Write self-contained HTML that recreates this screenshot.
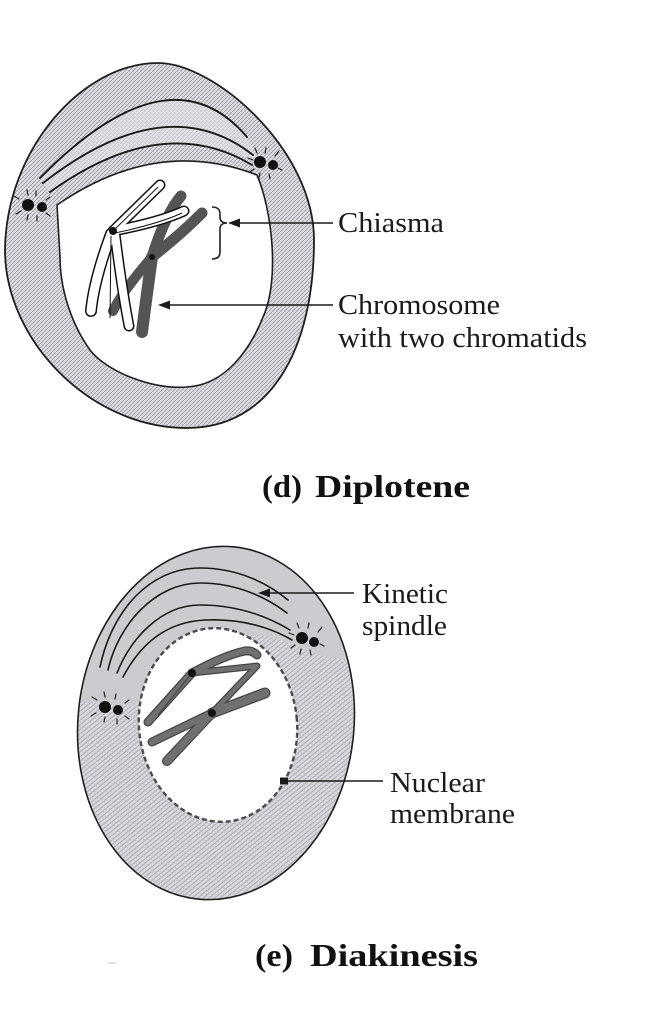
<!DOCTYPE html>
<html>
<head>
<meta charset="utf-8">
<style>
  html,body{margin:0;padding:0;background:#fff;}
  svg{display:block;}
  .lbl{font-family:"Liberation Serif",serif;font-size:28px;fill:#1a1a1a;}
  .ttl{font-family:"Liberation Serif",serif;font-size:32px;font-weight:bold;fill:#111;}
</style>
</head>
<body>
<svg width="652" height="1024" viewBox="0 0 652 1024" xmlns="http://www.w3.org/2000/svg">
  <defs>
    <pattern id="tex" width="4" height="4" patternUnits="userSpaceOnUse">
      <rect width="4" height="4" fill="#dcdfe3"/>
      <path d="M0,4 L4,0" stroke="#a49fa8" stroke-width="1"/>
    </pattern>
    <pattern id="tex2" width="5" height="5" patternUnits="userSpaceOnUse">
      <rect width="5" height="5" fill="#dadce0"/>
      <path d="M0,5 L5,0" stroke="#aaa5af" stroke-width="1"/>
      <path d="M0,0 L5,5" stroke="#c6c4cb" stroke-width="0.6"/>
    </pattern>
    <clipPath id="c2outer">
      <ellipse cx="216" cy="723" rx="138" ry="177" transform="rotate(6 216 723)"/>
    </clipPath>
  </defs>

  <!-- ============ CELL 1 (Diplotene) ============ -->
  <path d="M158,63 C215,63 314,150 314,240 C314,350 270,428 187,428 C90,428 5,340 5,250 C6,150 82,63 158,63 Z"
        fill="url(#tex)" stroke="#1e1e1e" stroke-width="1.8"/>
  <!-- lighter spindle region -->
  <path d="M40,178 Q170,46 247,137 L262,165 Q163,111 50,192 Z" fill="#e2e3e6" opacity="0.6"/>
  <!-- white interior -->
  <path d="M57,205 Q157,136 257,175 C272,210 280,280 263,317 C250,350 225,385 187,387 C150,390 105,370 90,350 C72,325 60,290 60,257 L57,205 Z"
        fill="#fff" stroke="#1e1e1e" stroke-width="1.6"/>
  <!-- spindle lines -->
  <g fill="none" stroke="#1a1a1a" stroke-width="1.9" stroke-linecap="round">
    <path d="M40,178 Q170,46 247,137"/>
    <path d="M43,183 Q166,87 253,155"/>
    <path d="M50,192 Q163,111 252,165"/>
  </g>
  <!-- centrosomes cell 1 -->
  <g fill="#111">
    <circle cx="28" cy="205" r="6"/>
    <circle cx="42" cy="207" r="5"/>
    <circle cx="260" cy="162" r="6"/>
    <circle cx="273" cy="165" r="5"/>
  </g>
  <g stroke="#222" stroke-width="1.2" stroke-linecap="round">
    <path d="M14,196 L19,199 M16,214 L21,211 M27,190 L28,195 M27,220 L28,215 M36,191 L36,196 M37,221 L37,216 M50,197 L46,200 M50,216 L46,213"/>
    <path d="M255,148 L257,153 M266,148 L265,153 M279,151 L275,156 M282,170 L278,168 M248,158 L253,160 M250,172 L254,169 M259,178 L260,173 M270,179 L269,174"/>
  </g>

  <!-- dark chromosome (behind) -->
  <g fill="none" stroke="#545454" stroke-linecap="round">
    <path d="M152,257 Q165,215 181,196" stroke-width="11"/>
    <path d="M152,257 Q180,235 202,213" stroke-width="11"/>
    <path d="M152,257 Q122,292 113,311" stroke-width="10"/>
    <path d="M152,257 Q146,300 142,332" stroke-width="12"/>
  </g>
  <circle cx="152" cy="257" r="3" fill="#111"/>

  <!-- white chromosome -->
  <g fill="none" stroke="#111" stroke-linecap="round">
    <path d="M113,231 L160,185" stroke-width="11"/>
    <path d="M113,231 Q160,222 184,211" stroke-width="11"/>
    <path d="M111,234 Q94,280 91,311" stroke-width="12"/>
    <path d="M115,234 Q122,290 129,326" stroke-width="11"/>
  </g>
  <g fill="none" stroke="#fff" stroke-linecap="round">
    <path d="M113,231 L160,185" stroke-width="8"/>
    <path d="M113,231 Q160,222 184,211" stroke-width="8"/>
    <path d="M111,234 Q94,280 91,311" stroke-width="9"/>
    <path d="M115,234 Q122,290 129,326" stroke-width="8"/>
  </g>
  <g fill="none" stroke="#111" stroke-width="1">
    <path d="M115,229 L158,187"/>
    <path d="M115,233 Q158,224 182,213"/>
    <path d="M111,236 L110,318"/>
  </g>
  <circle cx="113" cy="231" r="4" fill="#111"/>

  <!-- brace -->
  <path d="M212,207 Q220,207 220,214 L220,217 Q220,223 227,223 Q220,223 220,229 L220,252 Q220,259 212,259"
        fill="none" stroke="#222" stroke-width="1.6"/>

  <!-- arrows cell 1 -->
  <g stroke="#1a1a1a" stroke-width="1.6">
    <line x1="236" y1="223" x2="333" y2="223"/>
    <line x1="166" y1="305" x2="333" y2="305"/>
  </g>
  <g fill="#1a1a1a">
    <polygon points="228,223 240,218.5 240,227.5"/>
    <polygon points="158,305 170,300.5 170,309.5"/>
  </g>

  <!-- labels cell 1 -->
  <text class="lbl" x="338" y="232" textLength="106" lengthAdjust="spacingAndGlyphs">Chiasma</text>
  <text class="lbl" x="338" y="314" textLength="162" lengthAdjust="spacingAndGlyphs">Chromosome</text>
  <text class="lbl" x="338" y="347" textLength="249" lengthAdjust="spacingAndGlyphs">with two chromatids</text>
  <text class="ttl" x="262" y="497" textLength="40" lengthAdjust="spacingAndGlyphs">(d)</text>
  <text class="ttl" x="315" y="497" textLength="155" lengthAdjust="spacingAndGlyphs">Diplotene</text>

  <!-- ============ CELL 2 (Diakinesis) ============ -->
  <ellipse cx="216" cy="723" rx="138" ry="177" transform="rotate(6 216 723)" fill="url(#tex2)"/>
  <!-- smooth spindle region -->
  <g clip-path="url(#c2outer)">
    <polygon points="60,700 135,706 160,660 200,632 270,636 320,655 370,665 370,530 60,530" fill="#cbcccf"/>
  </g>
  <ellipse cx="216" cy="723" rx="138" ry="177" transform="rotate(6 216 723)" fill="none" stroke="#1e1e1e" stroke-width="1.6"/>
  <!-- nucleus -->
  <ellipse cx="218" cy="725" rx="79" ry="97" transform="rotate(-6 218 725)" fill="#fff" stroke="#4a4a4a" stroke-width="2.4" stroke-dasharray="5 3"/>

  <!-- spindle lines cell 2 -->
  <g fill="none" stroke="#1a1a1a" stroke-width="1.6" stroke-linecap="round">
    <path d="M100,667 C112,610 150,568 200,568 C240,568 270,585 288,600"/>
    <path d="M108,670 C118,625 155,583 200,583 C240,583 270,600 287,613"/>
    <path d="M117,673 C130,640 160,605 200,605 C240,605 270,618 290,630"/>
    <path d="M123,677 C140,645 165,622 205,620 C245,618 275,630 292,640"/>
  </g>
  <!-- centrosomes cell 2 -->
  <g fill="#111">
    <circle cx="105" cy="707" r="6"/>
    <circle cx="118" cy="710" r="5"/>
    <circle cx="302" cy="638" r="6"/>
    <circle cx="314" cy="642" r="5"/>
  </g>
  <g stroke="#222" stroke-width="1.2" stroke-linecap="round">
    <path d="M92,697 L97,700 M91,716 L96,713 M104,692 L105,697 M104,722 L105,717 M116,694 L115,699 M117,724 L117,719 M129,700 L125,703 M129,719 L125,716"/>
    <path d="M297,623 L299,628 M309,623 L308,628 M322,627 L318,632 M324,646 L320,644 M289,633 L294,635 M291,648 L295,645 M300,654 L301,649 M311,655 L310,650"/>
  </g>

  <!-- chromosomes cell 2 -->
  <g fill="none" stroke="#3a3a3a" stroke-linecap="round" opacity="0.95">
    <path d="M192,673 Q225,655 245,651 Q252,650 257,655" stroke-width="9"/>
    <path d="M192,673 L257,666" stroke-width="7"/>
    <path d="M192,673 L148,722" stroke-width="9"/>
    <path d="M255,668 L212,713" stroke-width="7"/>
    <path d="M212,713 L265,693" stroke-width="11"/>
    <path d="M212,713 L152,742" stroke-width="9"/>
    <path d="M212,713 L167,761" stroke-width="10"/>
  </g>
  <g fill="none" stroke="#707070" stroke-linecap="round">
    <path d="M192,673 Q225,655 245,651 Q252,650 257,655" stroke-width="6.5"/>
    <path d="M192,673 L257,666" stroke-width="4.5"/>
    <path d="M192,673 L148,722" stroke-width="6.5"/>
    <path d="M255,668 L212,713" stroke-width="4.5"/>
    <path d="M212,713 L265,693" stroke-width="8.5"/>
    <path d="M212,713 L152,742" stroke-width="6.5"/>
    <path d="M212,713 L167,761" stroke-width="7.5"/>
  </g>
  <path d="M192,673 L158,715" stroke="#444" stroke-width="1"/>
  <circle cx="192" cy="673" r="4" fill="#111"/>
  <circle cx="212" cy="713" r="4" fill="#111"/>

  <!-- arrows cell 2 -->
  <g stroke="#1a1a1a" stroke-width="1.6">
    <line x1="266" y1="593" x2="354" y2="593"/>
    <line x1="287" y1="781" x2="383" y2="781"/>
  </g>
  <g fill="#1a1a1a">
    <polygon points="258,593 270,588.5 270,597.5"/>
    <rect x="280" y="777.5" width="8" height="7"/>
  </g>

  <!-- labels cell 2 -->
  <text class="lbl" x="362" y="603" textLength="86" lengthAdjust="spacingAndGlyphs">Kinetic</text>
  <text class="lbl" x="362" y="635" textLength="85" lengthAdjust="spacingAndGlyphs">spindle</text>
  <text class="lbl" x="390" y="792" textLength="95" lengthAdjust="spacingAndGlyphs">Nuclear</text>
  <text class="lbl" x="390" y="823" textLength="125" lengthAdjust="spacingAndGlyphs">membrane</text>
  <text class="ttl" x="255" y="966" textLength="38" lengthAdjust="spacingAndGlyphs">(e)</text>
  <text class="ttl" x="310" y="966" textLength="168" lengthAdjust="spacingAndGlyphs">Diakinesis</text>

  <line x1="108" y1="963" x2="116" y2="963" stroke="#c4c6cc" stroke-width="1"/>
</svg>
</body>
</html>
